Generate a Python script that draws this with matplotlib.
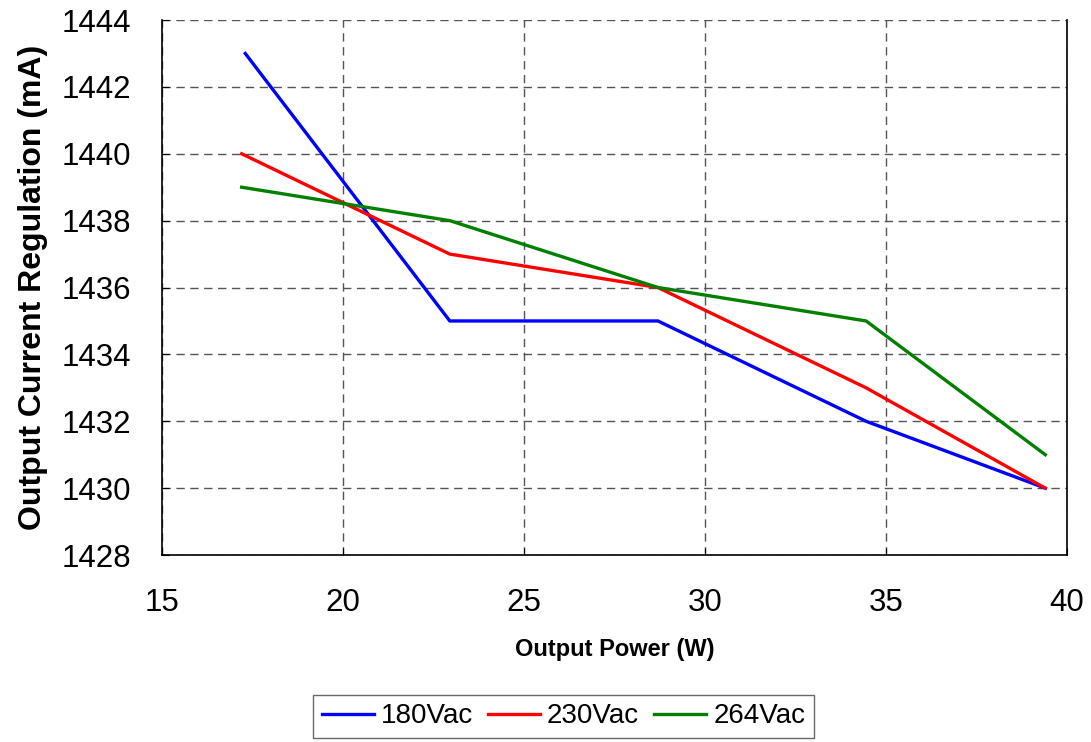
import matplotlib
matplotlib.use('Agg')
import matplotlib.pyplot as plt

plt.rcParams['font.family'] = ['Liberation Sans', 'DejaVu Sans']

power = [17.2, 22.95, 28.7, 34.45, 39.4]
power_180 = [17.3, 22.95, 28.7, 34.45, 39.4]
i_180 = [1443, 1435, 1435, 1432, 1430]
i_230 = [1440, 1437, 1436, 1433, 1430]
i_264 = [1439, 1438, 1436, 1435, 1431]

fig = plt.figure(figsize=(10.91, 7.42), dpi=100)
ax = fig.add_axes([0.1485, 0.252, 0.8295, 0.721])

ax.plot(power_180, i_180, color='#0000ff', lw=2.4, label='180Vac')
ax.plot(power, i_230, color='#ff0000', lw=2.4, label='230Vac')
ax.plot(power, i_264, color='#008000', lw=2.4, label='264Vac')

ax.set_xlim(15, 40)
ax.set_ylim(1428, 1444)
ax.set_xticks(range(15, 41, 5))
ax.set_yticks(range(1428, 1445, 2))
ax.grid(True, color='#555555', linestyle=(0, (6, 4)), lw=1)
ax.tick_params(axis='y', direction='in', length=5, labelsize=22.5, pad=22)
ax.tick_params(axis='x', direction='in', length=5, labelsize=22.5, pad=24)
ax.spines['top'].set_visible(False)
for s in ['left', 'bottom', 'right']:
    ax.spines[s].set_linewidth(1.2)

ax.set_xlabel('Output Power (W)', fontsize=17, fontweight='bold', labelpad=14)
ax.set_ylabel('Output Current Regulation (mA)', fontsize=23, fontweight='bold', labelpad=10)

leg = fig.legend(loc='upper center', bbox_to_anchor=(0.5165, 0.0633), ncol=3, fontsize=20,
                 frameon=True, fancybox=False, edgecolor='#444444', handlelength=1.87,
                 handletextpad=0.25, columnspacing=0.55, borderpad=0.3, borderaxespad=0)
leg.get_frame().set_linewidth(1)

fig.savefig('out.png', dpi=100)
